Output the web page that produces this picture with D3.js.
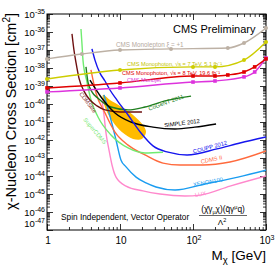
<!DOCTYPE html>
<html>
<head>
<meta charset="utf-8">
<script src="https://cdn.jsdelivr.net/npm/d3@7"></script>
<style>
body { margin: 0; background: #fff; }
svg { display: block; font-family: "Liberation Sans", Arial, sans-serif; }
</style>
</head>
<body>
<svg></svg>
<script>
var width = 276;
var height = 265;

// [mass in GeV, cross section in cm^2]
var monolepton = [[1, 3.2e-38], [3, 6.0e-38], [10, 1.0e-37], [50, 1.15e-37], [300, 1.29e-37], [500, 2.45e-37], [1000, 1.66e-36]];
var monophoton7 = [[1, 2.45e-39], [10, 7.8e-39], [100, 1.15e-38], [200, 1.15e-38], [500, 2.75e-38], [1000, 2.75e-37]];
var monophoton8 = [[1, 7.8e-40], [10, 1.48e-39], [100, 3.6e-39], [200, 3.6e-39], [300, 4.1e-39], [500, 6.0e-39], [700, 1.15e-38], [1000, 3.2e-38]];
var monojet = [[1, 4.7e-40], [10, 7.8e-40], [100, 1.66e-39], [200, 1.9e-39], [500, 3.2e-39], [700, 6.0e-39], [1000, 3.6e-38]];
var cdmslite = [[2.2, 7.8e-37], [2.34, 1.0e-37], [2.5, 1.9e-38], [2.74, 2.75e-39], [3.21, 5.2e-40], [3.88, 1.66e-40], [4.84, 7.8e-41], [6.23, 4.7e-41], [10, 3.6e-41], [20, 3.6e-41]];
var supercdms = [[2.92, 1.48e-36], [3.02, 1.9e-37], [3.11, 2.75e-38], [3.53, 1.66e-39], [4.01, 1.66e-40], [5.0, 1.9e-41], [7.53, 1.9e-42], [12.9, 3.6e-43], [22, 1.9e-43], [38.8, 2.1e-43]];
var cogent = [[3.42, 1.15e-38], [3.64, 1.66e-39], [4.13, 4.7e-40], [5.0, 2.1e-40], [7.53, 6.8e-41], [12.9, 4.7e-41], [22, 6.8e-41], [41.3, 1.48e-40], [94, 2.75e-40]];
var simple = [[3.88, 2.1e-39], [5.49, 2.45e-40], [8.54, 3.2e-41], [14.1, 1.0e-41], [28.3, 5.2e-42], [56.7, 4.1e-42], [106, 5.2e-42], [207, 7.8e-42]];
var coupp = [[4.13, 1.15e-37], [4.54, 2.75e-38], [5.32, 5.2e-39], [6.23, 1.9e-39], [7.29, 6.0e-40], [9.1, 1.66e-40], [12.9, 2.45e-41], [19.4, 2.45e-42], [28.3, 4.7e-43], [45.5, 2.1e-43], [82.8, 1.48e-43], [213, 3.2e-43], [440, 6.8e-43], [1000, 1.48e-42]];
var cdms2 = [[4.0, 7.8e-39], [4.69, 4.1e-40], [6.23, 3.2e-41], [8.54, 2.75e-42], [12.9, 5.2e-43], [22, 1.48e-43], [38.8, 5.2e-44], [66.4, 4.1e-44], [137, 4.1e-44], [321, 6.0e-44], [1000, 2.45e-43]];
var xenon100 = [[6.03, 3.2e-40], [6.43, 1.29e-40], [7.53, 1.29e-41], [8.82, 1.0e-42], [10.3, 7.8e-44], [12.1, 3.2e-44], [16.6, 8.7e-45], [22.7, 4.1e-45], [31.1, 2.45e-45], [56.7, 1.66e-45], [146, 3.6e-45], [413, 8.7e-45], [1000, 2.1e-44]];
var lux = [[5.67, 1.66e-40], [6.03, 2.45e-41], [6.43, 2.45e-42], [7.07, 2.75e-43], [7.77, 4.1e-44], [8.82, 8.7e-45], [12.1, 2.75e-45], [20.6, 1.48e-45], [35.3, 1.0e-45], [77.6, 7.8e-46], [125, 8.7e-46], [321, 2.75e-45], [1000, 1.0e-44]];
var cdmsSiRegion = [[5.85, 3.2e-40], [7.29, 1.66e-40], [10, 7.8e-41], [15.1, 2.45e-41], [20.6, 6.8e-42], [22.7, 2.75e-42], [20, 1.15e-42], [15.1, 1.15e-42], [10.6, 2.75e-42], [8.02, 1.0e-41], [6.63, 3.6e-41], [6.03, 1.0e-40]];

var xTickValues = [1, 10, 100, 1000];
var xTickLabels = ['1', '10', '10', '10'];
var xTickSups = ['', '', '2', '3'];
var yExponents = d3.range(-47, -34);

var svg = d3.select('svg')
    .attr('width', width)
    .attr('height', height);

var x = d3.scaleLog().domain([1, 1000]).range([47, 266]);
var y = d3.scaleLog().domain([1e-47, 1e-35]).range([230, 14]);

svg.append('clipPath').attr('id', 'plot')
    .append('rect')
    .attr('x', 47).attr('y', 14)
    .attr('width', 219).attr('height', 216);

// minor and major tick positions
var xMinor = [];
for (var d = 0; d < 3; d++) {
    for (var k = 2; k < 10; k++) xMinor.push(k * Math.pow(10, d));
}
var yMinor = [];
for (var e = -47; e < -35; e++) {
    for (var k = 2; k < 10; k++) yMinor.push(k * Math.pow(10, e));
}
var yMajor = yExponents.map(e => Math.pow(10, e));

function ticks(gen, tr, vals, size) {
    svg.append('g')
        .attr('transform', tr)
        .call(gen.tickValues(vals).tickSize(size).tickFormat(''))
        .call(g => g.select('.domain').remove())
        .selectAll('line').attr('stroke', '#000').attr('stroke-width', 0.8);
}
ticks(d3.axisBottom(x), 'translate(0,230)', xMinor, -3);
ticks(d3.axisBottom(x), 'translate(0,230)', xTickValues, -6);
ticks(d3.axisTop(x), 'translate(0,14)', xMinor, -3);
ticks(d3.axisTop(x), 'translate(0,14)', xTickValues, -6);
ticks(d3.axisLeft(y), 'translate(47,0)', yMinor, -3);
ticks(d3.axisLeft(y), 'translate(47,0)', yMajor, -6);
ticks(d3.axisRight(y), 'translate(266,0)', yMinor, -3);
ticks(d3.axisRight(y), 'translate(266,0)', yMajor, -6);

svg.append('rect')
    .attr('x', 47).attr('y', 14)
    .attr('width', 219).attr('height', 216)
    .attr('fill', 'none').attr('stroke', '#000').attr('stroke-width', 1);

// tick labels
svg.selectAll('.ylab').data(yExponents).enter().append('text')
    .attr('class', 'ylab')
    .attr('x', 45)
    .attr('y', d => y(Math.pow(10, d)) + 3.5 - (d === -47 ? 7 : 0))
    .attr('text-anchor', 'end')
    .each(function(d) {
        var t = d3.select(this);
        t.append('tspan').attr('font-size', 9.5).text('10');
        t.append('tspan').attr('font-size', 7).attr('dy', -4).text(d);
    });

svg.selectAll('.xlab').data(xTickValues).enter().append('text')
    .attr('class', 'xlab')
    .attr('x', d => x(d) + 1)
    .attr('y', 244)
    .attr('text-anchor', 'middle')
    .each(function(d, i) {
        var t = d3.select(this);
        t.append('tspan').attr('font-size', 10).text(xTickLabels[i]);
        if (xTickSups[i]) t.append('tspan').attr('font-size', 7).attr('dy', -4).text(xTickSups[i]);
    });

// axis titles
var xt = svg.append('text').attr('x', 266).attr('y', 260).attr('text-anchor', 'end').attr('font-size', 13.5);
xt.append('tspan').text('M');
xt.append('tspan').attr('font-size', 9.5).attr('dy', 3).text('χ');
xt.append('tspan').attr('dy', -3).text(' [GeV]');

var yt = svg.append('text').attr('transform', 'translate(15.5,13) rotate(-90)')
    .attr('text-anchor', 'end').attr('font-size', 14.5);
yt.append('tspan').text('χ-Nucleon Cross Section [cm');
yt.append('tspan').attr('font-size', 10).attr('dy', -6).text('2');
yt.append('tspan').attr('dy', 6).text(']');

// filled region
var plot = svg.append('g').attr('clip-path', 'url(#plot)');
plot.append('path')
    .datum(cdmsSiRegion)
    .attr('d', d3.line().x(d => x(d[0])).y(d => y(d[1])).curve(d3.curveCatmullRomClosed))
    .attr('fill', '#ffbb00');

var curves = [
    {data: lux, color: '#ff88cc'},
    {data: xenon100, color: '#1a9cf0'},
    {data: cdms2, color: '#ff6a3d'},
    {data: supercdms, color: '#70ec70'},
    {data: cogent, color: '#1f7f1f'},
    {data: cdmslite, color: '#6e1010'},
    {data: simple, color: '#000000'},
    {data: coupp, color: '#1515ee'},
    {data: monolepton, color: '#bdb1a5', marker: 'circle'},
    {data: monophoton7, color: '#cdcd00', marker: 'circle'},
    {data: monojet, color: '#dd33dd', marker: 'square'},
    {data: monophoton8, color: '#e00000', marker: 'square'}
];

var line = d3.line().x(d => x(d[0])).y(d => y(d[1])).curve(d3.curveMonotoneX);

curves.forEach(function(c) {
    plot.append('path')
        .datum(c.data)
        .attr('d', line)
        .attr('fill', 'none')
        .attr('stroke', c.color)
        .attr('stroke-width', 1.4);
    if (c.marker === 'circle') {
        svg.append('g').selectAll('circle').data(c.data).enter().append('circle')
            .attr('cx', d => x(d[0])).attr('cy', d => y(d[1])).attr('r', 2)
            .attr('fill', c.color);
    } else if (c.marker === 'square') {
        svg.append('g').selectAll('rect').data(c.data).enter().append('rect')
            .attr('x', d => x(d[0]) - 1.8).attr('y', d => y(d[1]) - 1.8)
            .attr('width', 3.6).attr('height', 3.6)
            .attr('fill', c.color);
    }
});

// curve labels
var labels = [
    {text: 'CMS Monolepton ξ = +1', color: '#b5a99d', x: 116, y: 47, size: 6.3, angle: 0, anchor: 'start'},
    {text: 'CMS Monophoton, √s = 7 TeV, 5.1 fb⁻¹', color: '#c4c400', x: 127, y: 66, size: 5.6, angle: 0, anchor: 'start'},
    {text: 'CMS Monophoton, √s = 8 TeV, 19.6 fb⁻¹', color: '#e00000', x: 122, y: 75, size: 5.6, angle: 0, anchor: 'start'},
    {text: 'CMS Monojet', color: '#dd33dd', x: 127, y: 81.5, size: 5.6, angle: 0, anchor: 'start'},
    {text: 'CoGeNT 2011', color: '#1f7f1f', x: 166, y: 102.5, size: 5.8, angle: -20, anchor: 'middle'},
    {text: 'SIMPLE 2012', color: '#000000', x: 182, y: 123, size: 5.8, angle: -7, anchor: 'middle'},
    {text: 'COUPP 2012', color: '#1515ee', x: 210, y: 147, size: 5.8, angle: -15, anchor: 'middle'},
    {text: 'CDMS II', color: '#ff6a3d', x: 211.5, y: 159.5, size: 5.8, angle: -12, anchor: 'middle'},
    {text: 'XENON100', color: '#1a9cf0', x: 208, y: 182, size: 5.8, angle: -11, anchor: 'middle'},
    {text: 'LUX', color: '#ff88cc', x: 200.5, y: 194, size: 5.8, angle: -10, anchor: 'middle'},
    {text: 'CDMSlite', color: '#8a3636', x: 88, y: 102.5, size: 5.8, angle: 53, anchor: 'middle'},
    {text: 'SuperCDMS', color: '#7ae87a', x: 95, y: 131, size: 5.8, angle: 50, anchor: 'middle'}
];
labels.forEach(function(l) {
    var t = svg.append('text')
        .attr('transform', 'translate(' + l.x + ',' + l.y + ') rotate(' + l.angle + ')')
        .attr('text-anchor', l.anchor)
        .attr('font-size', l.size)
        .attr('fill', l.color)
        .text(l.text);
    if (l.anchor === 'middle') t.attr('dominant-baseline', 'central');
});

svg.append('text').attr('x', 173).attr('y', 33).attr('font-size', 11).text('CMS Preliminary');
svg.append('text').attr('x', 61).attr('y', 220).attr('font-size', 8.3).text('Spin Independent, Vector Operator');

// operator formula
var num = svg.append('text').attr('x', 223).attr('y', 212).attr('text-anchor', 'middle').attr('font-size', 8.3);
num.append('tspan').text('(χ̄γ');
num.append('tspan').attr('font-size', 5.5).attr('dy', 1.5).text('μ');
num.append('tspan').attr('dy', -1.5).text('χ)(q̄γ');
num.append('tspan').attr('font-size', 5.5).attr('dy', -3).text('μ');
num.append('tspan').attr('dy', 3).text('q)');
svg.append('line').attr('x1', 199).attr('x2', 247).attr('y1', 215.5).attr('y2', 215.5)
    .attr('stroke', '#000').attr('stroke-width', 0.6);
var den = svg.append('text').attr('x', 222).attr('y', 225).attr('text-anchor', 'middle').attr('font-size', 8);
den.append('tspan').text('Λ');
den.append('tspan').attr('font-size', 5.5).attr('dy', -3).text('2');
</script>
</body>
</html>
